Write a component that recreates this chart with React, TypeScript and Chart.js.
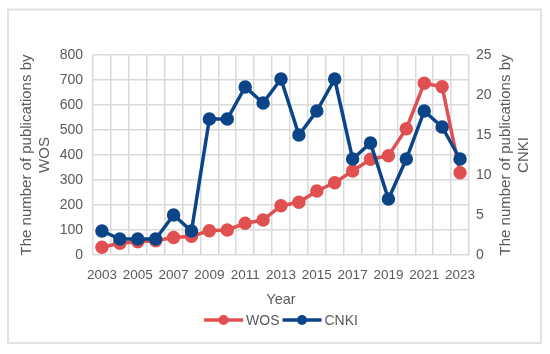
import React, { useEffect, useRef } from "react";
import { Chart, registerables } from "chart.js";

Chart.register(...registerables);

const years = ["2003","2004","2005","2006","2007","2008","2009","2010","2011","2012","2013","2014","2015","2016","2017","2018","2019","2020","2021","2022","2023"];
const wos = [31, 47, 53, 57, 70, 75, 97, 100, 127, 140, 197, 211, 256, 289, 336, 383, 397, 505, 687, 673, 329];
const cnki = [3, 2, 2, 2, 5, 3, 17, 17, 21, 19, 22, 15, 18, 22, 12, 14, 7, 12, 18, 16, 12];
const leftTitle = ["The number of publications by", "WOS"];
const rightTitle = ["The number of publications by", "CNKI"];
const xTitle = "Year";
const seriesNames = ["WOS", "CNKI"];

const RED = "#E05050";
const BLUE = "#0B4587";
const TEXT = "#595959";
const FONT = "'Liberation Sans', Arial, sans-serif";

const decor = {
  id: "decor",
  beforeDraw(chart: any) {
    const ctx = chart.ctx;
    ctx.save();
    ctx.strokeStyle = "#e2e2e2";
    ctx.lineWidth = 2;
    ctx.strokeRect(8, 9.5, 533, 333.5);
    ctx.restore();
  },
  afterDraw(chart: any) {
    const ctx = chart.ctx;
    const ca = chart.chartArea;
    ctx.save();
    ctx.fillStyle = TEXT;
    ctx.font = `15px ${FONT}`;
    ctx.textAlign = "center";
    ctx.textBaseline = "middle";
    const cy = (ca.top + ca.bottom) / 2;
    const drawRot = (x: number, lines: string[]) => {
      ctx.save();
      ctx.translate(x, cy);
      ctx.rotate(-Math.PI / 2);
      lines.forEach((l, i) => ctx.fillText(l, 0, (i - (lines.length - 1) / 2) * 18.5));
      ctx.restore();
    };
    drawRot(36, leftTitle);
    drawRot(515, rightTitle);
    // x title
    const cx = (ca.left + ca.right) / 2;
    ctx.font = `14.5px ${FONT}`;
    ctx.fillText(xTitle, cx, 300);
    // legend
    const ly = 320;
    ctx.textAlign = "left";
    const items = [
      { name: seriesNames[0], color: RED },
      { name: seriesNames[1], color: BLUE },
    ];
    ctx.font = `14px ${FONT}`;
    const widths = items.map((it) => 39 + 3 + ctx.measureText(it.name).width);
    const total = widths[0] + widths[1] + 3;
    let x = cx - total / 2;
    items.forEach((it, i) => {
      ctx.strokeStyle = it.color;
      ctx.lineWidth = 3.5;
      ctx.beginPath();
      ctx.moveTo(x, ly);
      ctx.lineTo(x + 39, ly);
      ctx.stroke();
      ctx.fillStyle = it.color;
      ctx.beginPath();
      ctx.arc(x + 19.5, ly, 5, 0, Math.PI * 2);
      ctx.fill();
      ctx.fillStyle = TEXT;
      ctx.fillText(it.name, x + 42, ly + 1);
      x += widths[i] + 3;
    });
    ctx.restore();
  },
};

export default function App() {
  const ref = useRef<HTMLCanvasElement>(null);
  useEffect(() => {
    if (!ref.current) return;
    const chart = new Chart(ref.current, {
      type: "line",
      data: {
        labels: years,
        datasets: [
          {
            label: seriesNames[0],
            data: wos,
            borderColor: RED,
            backgroundColor: RED,
            borderWidth: 3.5,
            pointRadius: 5,
            pointBackgroundColor: RED,
            pointBorderColor: RED,
            yAxisID: "y",
            order: 2,
          },
          {
            label: seriesNames[1],
            data: cnki,
            borderColor: BLUE,
            backgroundColor: BLUE,
            borderWidth: 3.5,
            pointRadius: 5,
            pointBackgroundColor: BLUE,
            pointBorderColor: BLUE,
            yAxisID: "y1",
            order: 1,
          },
        ],
      },
      options: {
        responsive: false,
        animation: false,
        layout: { padding: { top: 55, left: 0, right: 0, bottom: 0 } },
        plugins: { legend: { display: false }, tooltip: { enabled: false } },
        scales: {
          x: {
            offset: true,
            grid: { offset: true, color: "#d9d9d9", lineWidth: 1.5, drawTicks: false },
            border: { display: false },
            ticks: {
              autoSkip: false,
              maxRotation: 0,
              padding: 12,
              color: TEXT,
              font: { family: FONT, size: 13.5 },
              callback: (v: any, i: number) => (i % 2 === 0 ? years[i] : ""),
            },
            afterFit: (s: any) => { s.height = 99; },
          },
          y: {
            position: "left",
            min: 0,
            max: 800,
            ticks: { stepSize: 100, padding: 10, color: TEXT, font: { family: FONT, size: 14 } },
            grid: { color: "#d9d9d9", lineWidth: 1.5, drawTicks: false },
            border: { display: false },
            afterFit: (s: any) => { s.width = 93; },
          },
          y1: {
            position: "right",
            min: 0,
            max: 25,
            ticks: { stepSize: 5, padding: 7, color: TEXT, font: { family: FONT, size: 14 } },
            grid: { drawOnChartArea: false, drawTicks: false },
            border: { display: false },
            afterFit: (s: any) => { s.width = 81; },
          },
        },
      },
      plugins: [decor],
    });
    return () => chart.destroy();
  }, []);
  return (
    <div style={{ position: "absolute", left: 0, top: 0, width: 550, height: 354, background: "#fff" }}>
      <canvas ref={ref} width={550} height={354} style={{ width: 550, height: 354 }} />
    </div>
  );
}
